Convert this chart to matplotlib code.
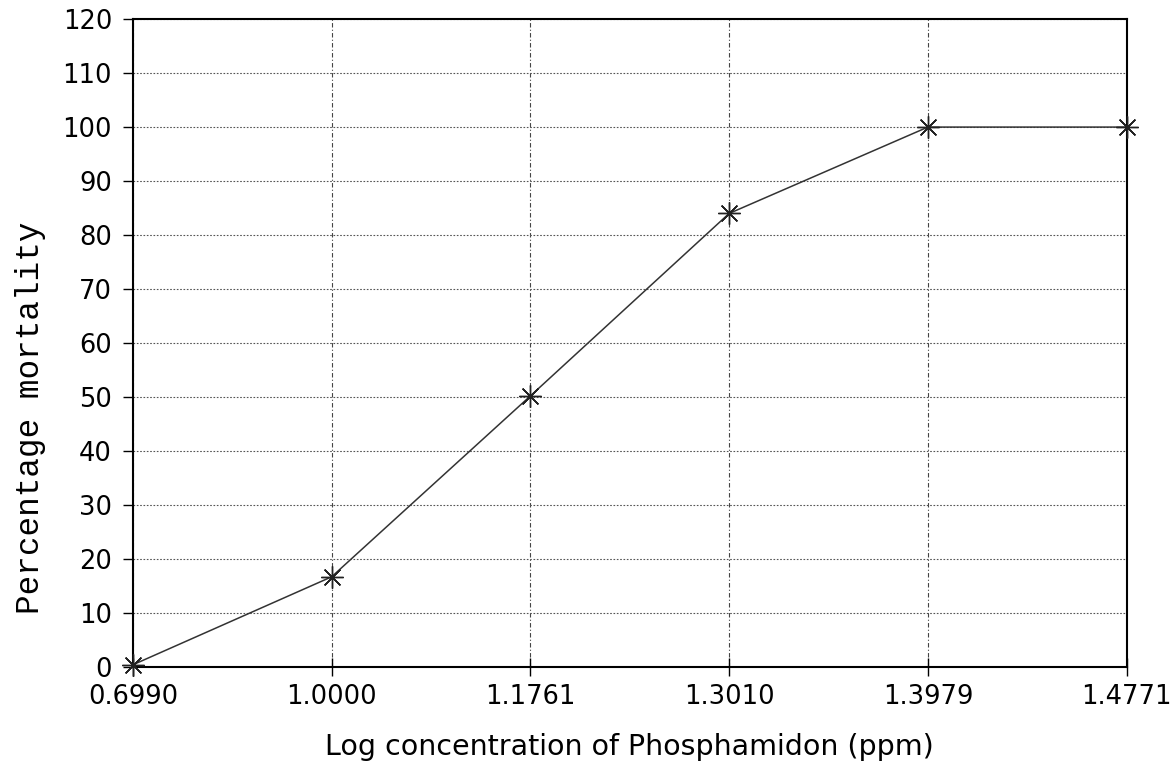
"""
Dose-response curve: percentage mortality vs log concentration of Phosphamidon.
"""

import matplotlib.pyplot as plt
import numpy as np

log_conc_labels = ["0.6990", "1.0000", "1.1761", "1.3010", "1.3979", "1.4771"]
mortality = [0.4, 16.7, 50.2, 84.0, 100.0, 100.0]
y_ticks = list(range(0, 121, 10))

fig = plt.figure(figsize=(11.76, 7.64), dpi=100)
ax = fig.add_axes([0.113, 0.127, 0.845, 0.848])

# categories are equally spaced on the x axis
x = np.arange(len(log_conc_labels))
ax.plot(x, mortality, color="#333333", lw=1.1,
        marker=(8, 2, 0), markersize=16, markeredgewidth=1.0,
        markeredgecolor="#222222", clip_on=False, zorder=3)

ax.set_xlim(x[0], x[-1])
ax.set_ylim(0, 120)
ax.set_xticks(x)
ax.set_xticklabels(log_conc_labels, family="DejaVu Sans", fontsize=18.5)
ax.set_yticks(y_ticks)
ax.set_yticklabels([str(v) for v in y_ticks], family="DejaVu Sans", fontsize=18.5)

# grid: dash-dot verticals, dotted horizontals
ax.xaxis.grid(True, linestyle=(0, (4, 2, 1, 2)), color="#444444", lw=0.8)
ax.yaxis.grid(True, linestyle=(0, (1.5, 1.5)), color="#555555", lw=0.8)

ax.tick_params(axis="y", direction="out", length=7, width=1.0, pad=8)
ax.tick_params(axis="x", direction="inout", length=13, width=1.0, pad=6)
for s in ax.spines.values():
    s.set_linewidth(1.5)
    s.set_color("black")

ax.set_xlabel("Log concentration of Phosphamidon (ppm)",
              family="DejaVu Sans", fontsize=20.5, labelpad=16)
ax.set_ylabel("Percentage mortality", family="Liberation Mono",
              fontsize=23.5)
# label sits below the axis centre in the original
ax.yaxis.set_label_coords(-0.087, 0.385)

fig.savefig("out.png", dpi=100)
